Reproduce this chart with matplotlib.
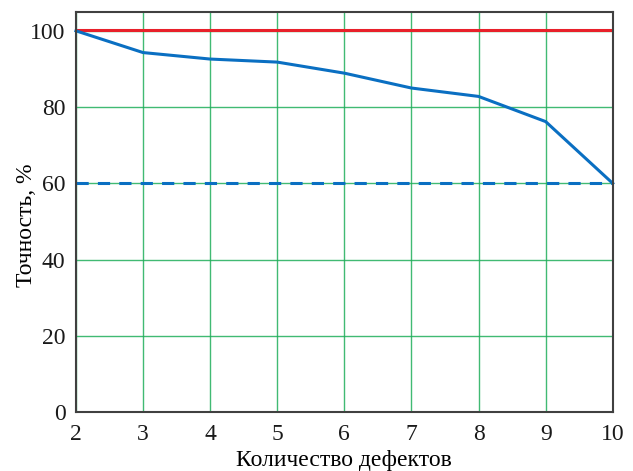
import matplotlib
matplotlib.use("Agg")
import matplotlib.pyplot as plt

defects = [2, 3, 4, 5, 6, 7, 8, 9, 10]
accuracy = [100, 94.3, 92.6, 91.8, 88.9, 85.0, 82.8, 76.2, 60]
upper_level = 100.2
lower_level = 60

plt.rcParams['font.family'] = ['Liberation Serif', 'FreeSerif', 'DejaVu Serif']

fig = plt.figure(figsize=(6.33, 4.71), dpi=100)
ax = fig.add_axes([0.120, 0.125, 0.848, 0.850])

grid_c = '#1fae5a'
ax.set_xlim(2, 10)
ax.set_ylim(0, 105)
ax.set_xticks(defects)
ax.set_yticks([0, 20, 40, 60, 80, 100])
ax.grid(True, color=grid_c, linewidth=1.0, alpha=0.85)
ax.set_axisbelow(True)

ax.axhline(upper_level, color='#e8202a', linewidth=2.2)
ax.axhline(lower_level, color='#0a6fc2', linewidth=2.2, linestyle=(0, (4, 3)))
ax.plot(defects, accuracy, color='#0a6fc2', linewidth=2.2, clip_on=False)

ax.tick_params(length=0, labelsize=17, colors='#1a1a1a')
ax.tick_params(axis='x', pad=8.5)
ax.tick_params(axis='y', pad=7.5)
for s in ax.spines.values():
    s.set_color('#404040')
    s.set_linewidth(1.5)

ax.set_xlabel('Количество дефектов', fontsize=17)
ax.xaxis.set_label_coords(0.5, -0.094)
ax.set_ylabel('Точность, %', fontsize=17)
ax.yaxis.set_label_coords(-0.072, 0.467)

fig.savefig('out.png', dpi=100)
